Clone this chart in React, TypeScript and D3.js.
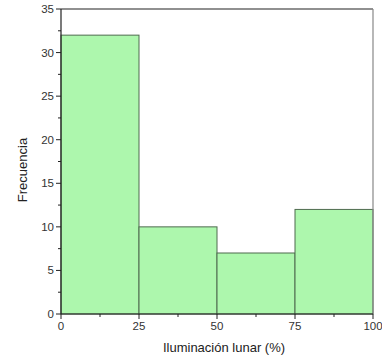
import React from "react";
import * as d3 from "d3";

const binEdges = [0, 25, 50, 75, 100];
const counts = [32, 10, 7, 12];
const xTicks = [0, 25, 50, 75, 100];
const yTicks = [0, 5, 10, 15, 20, 25, 30, 35];

export default function App() {
  const W = 382, H = 358;
  const left = 61, right = 373, top = 9, bottom = 314;
  const x = d3.scaleLinear().domain([0, 100]).range([left, right]);
  const y = d3.scaleLinear().domain([0, 35]).range([bottom, top]);
  const font = "'Liberation Sans', Arial, sans-serif";
  const xMinor = d3.range(12.5, 100, 25);
  const yMinor = d3.range(2.5, 35, 5);
  return (
    <svg width={W} height={H} style={{ position: "absolute", left: 0, top: 0, background: "#fff" }}>
      {counts.map((c, i) => (
        <rect key={i} x={x(binEdges[i])} y={y(c)} width={x(binEdges[i + 1]) - x(binEdges[i])} height={y(0) - y(c)}
          fill="#adf7ad" stroke="#4f6b4f" strokeWidth={1} />
      ))}
      <line x1={left} x2={right} y1={top} y2={top} stroke="#222" strokeWidth={1.2} />
      <line x1={right} x2={right} y1={top} y2={bottom} stroke="#888" strokeWidth={1.2} />
      <line x1={left} x2={left} y1={top} y2={bottom} stroke="#222" strokeWidth={1.2} />
      <line x1={left} x2={right} y1={bottom} y2={bottom} stroke="#222" strokeWidth={1.2} />
      {yTicks.map(t => (
        <g key={t}>
          <line x1={left - 5} x2={left} y1={y(t)} y2={y(t)} stroke="#222" />
          <text x={left - 7} y={y(t)} dy="0.35em" textAnchor="end" fontFamily={font} fontSize={11.5} fill="#333">{t}</text>
        </g>
      ))}
      {yMinor.map(t => (
        <line key={t} x1={left - 3} x2={left} y1={y(t)} y2={y(t)} stroke="#222" />
      ))}
      {xTicks.map(t => (
        <g key={t}>
          <line x1={x(t)} x2={x(t)} y1={bottom} y2={bottom + 5} stroke="#222" />
          <text x={x(t)} y={bottom + 16} textAnchor="middle" fontFamily={font} fontSize={11.5} fill="#333">{t}</text>
        </g>
      ))}
      {xMinor.map(t => (
        <line key={t} x1={x(t)} x2={x(t)} y1={bottom} y2={bottom + 3} stroke="#222" />
      ))}
      <text x={224} y={352} textAnchor="middle" fontFamily={font} fontSize={13} fill="#222">Iluminación lunar (%)</text>
      <text transform={`translate(27, 170) rotate(-90)`} textAnchor="middle" fontFamily={font} fontSize={13} fill="#222">Frecuencia</text>
    </svg>
  );
}
